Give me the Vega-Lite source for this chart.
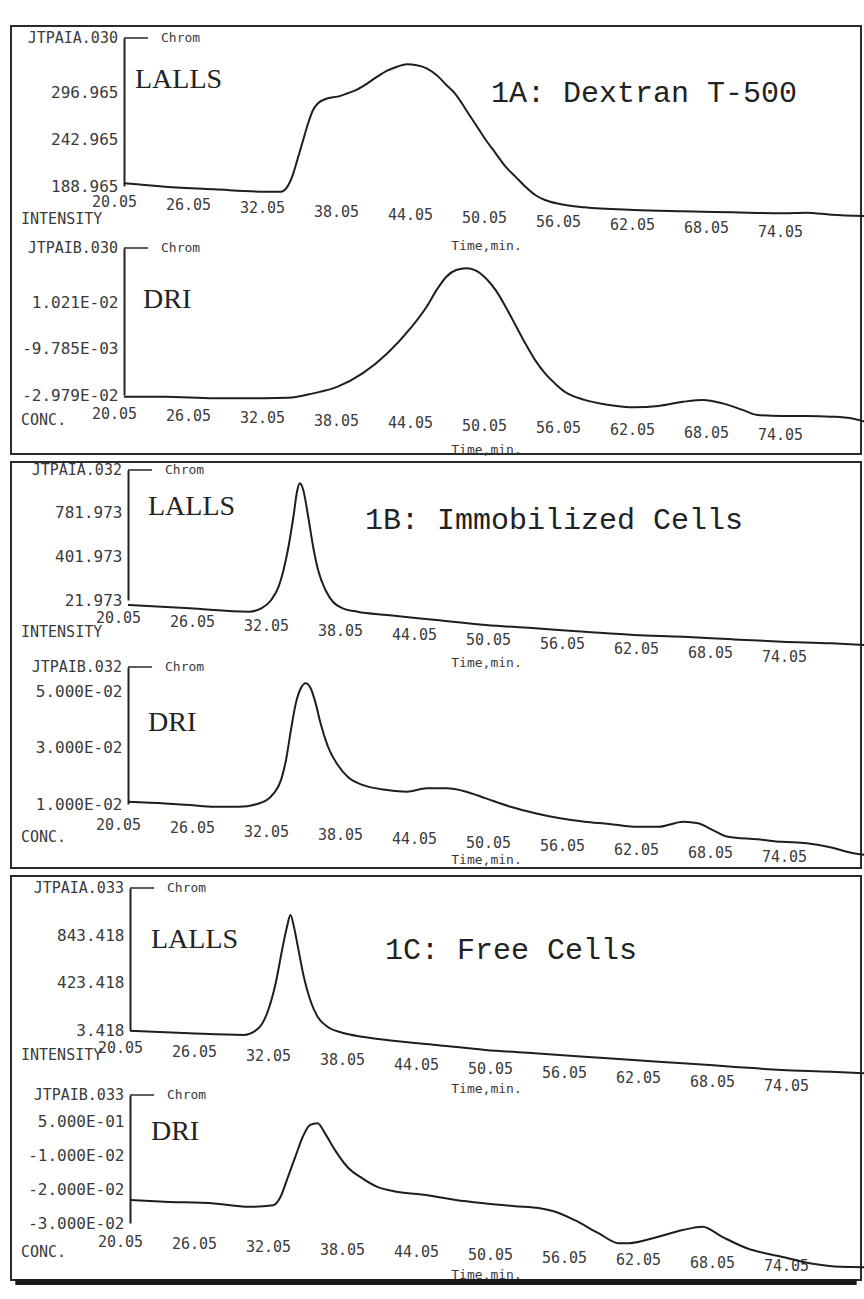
{
  "$schema": "https://vega.github.io/schema/vega-lite/v6.json",
  "background": "white",
  "padding": {"left": 10, "top": 25, "right": 2, "bottom": 10},
  "spacing": 8,
  "bounds": "flush",
  "config": {
    "view": {"stroke": "#2a2a2a", "strokeWidth": 2},
    "axis": {"grid": false, "ticks": false, "labelFont": "DejaVu Sans Mono", "labelFontSize": 15, "labelColor": "#3a3a3a", "titleFont": "DejaVu Sans Mono", "titleFontSize": 13, "titleFontWeight": "normal", "titleColor": "#3a3a3a", "labelOverlap": false, "labelFlush": false},
    "axisX": {"domain": false, "labelOffset": -10, "titleBaseline": "middle", "titleX": 475},
    "axisY": {"domainColor": "#222222", "domainWidth": 2, "labelPadding": 6, "labelFontSize": 16}
  },
  "datasets": {
    "A1": [{"t":20.05,"v":192.1},{"t":23.38,"v":188.2},{"t":27.38,"v":185.1},{"t":31.38,"v":182.4},{"t":32.78,"v":182.4},{"t":33.38,"v":190.1},{"t":33.78,"v":203.7},{"t":34.18,"v":223.0},{"t":34.58,"v":242.4},{"t":34.98,"v":261.8},{"t":35.38,"v":277.2},{"t":35.78,"v":285.0},{"t":36.58,"v":290.8},{"t":37.38,"v":292.7},{"t":38.18,"v":296.6},{"t":38.98,"v":301.2},{"t":39.79,"v":308.2},{"t":40.59,"v":315.9},{"t":41.39,"v":322.9},{"t":42.19,"v":327.5},{"t":42.99,"v":330.3},{"t":43.79,"v":329.1},{"t":44.59,"v":325.6},{"t":45.39,"v":317.9},{"t":46.19,"v":306.3},{"t":46.99,"v":294.6},{"t":47.79,"v":277.2},{"t":48.59,"v":259.8},{"t":49.39,"v":242.4},{"t":50.19,"v":226.9},{"t":50.99,"v":211.4},{"t":51.79,"v":199.8},{"t":52.59,"v":188.2},{"t":53.39,"v":178.5},{"t":54.19,"v":172.7},{"t":55.39,"v":168.1},{"t":57.39,"v":164.2},{"t":61.40,"v":161.1},{"t":65.40,"v":159.6},{"t":69.40,"v":158.4},{"t":73.40,"v":157.3},{"t":75.40,"v":158.0},{"t":77.40,"v":155.6},{"t":80.13,"v":154.1}],
    "A2": [{"t":20.05,"v":-0.0305},{"t":23.38,"v":-0.0305},{"t":27.38,"v":-0.0312},{"t":31.38,"v":-0.0312},{"t":33.38,"v":-0.0310},{"t":35.38,"v":-0.0291},{"t":37.38,"v":-0.0262},{"t":39.39,"v":-0.0205},{"t":41.39,"v":-0.0119},{"t":43.39,"v":-0.0004},{"t":44.59,"v":0.0082},{"t":45.39,"v":0.0153},{"t":46.19,"v":0.0211},{"t":46.99,"v":0.0240},{"t":47.79,"v":0.0247},{"t":48.59,"v":0.0237},{"t":49.39,"v":0.0204},{"t":50.19,"v":0.0153},{"t":50.99,"v":0.0082},{"t":51.79,"v":0.0003},{"t":52.59,"v":-0.0076},{"t":53.39,"v":-0.0148},{"t":54.19,"v":-0.0205},{"t":54.99,"v":-0.0248},{"t":55.79,"v":-0.0284},{"t":57.39,"v":-0.0319},{"t":59.39,"v":-0.0341},{"t":61.40,"v":-0.0351},{"t":63.40,"v":-0.0345},{"t":65.40,"v":-0.0327},{"t":67.00,"v":-0.0319},{"t":68.60,"v":-0.0334},{"t":70.20,"v":-0.0362},{"t":71.40,"v":-0.0384},{"t":73.40,"v":-0.0388},{"t":75.40,"v":-0.0388},{"t":77.40,"v":-0.0391},{"t":79.00,"v":-0.0398},{"t":80.13,"v":-0.0413}],
    "B1": [{"t":20.05,"v":-21.2},{"t":25.05,"v":-49.8},{"t":29.86,"v":-79.1},{"t":30.86,"v":-49.8},{"t":31.66,"v":22},{"t":32.26,"v":136.8},{"t":32.66,"v":281},{"t":33.06,"v":482},{"t":33.46,"v":741},{"t":33.78,"v":972},{"t":33.98,"v":1030},{"t":34.26,"v":972},{"t":34.66,"v":741},{"t":35.06,"v":482},{"t":35.46,"v":281},{"t":36.06,"v":108},{"t":36.66,"v":7},{"t":37.46,"v":-50},{"t":38.66,"v":-79},{"t":41.06,"v":-108},{"t":45.06,"v":-151},{"t":49.07,"v":-194},{"t":53.07,"v":-223},{"t":57.07,"v":-252},{"t":61.07,"v":-280},{"t":65.07,"v":-295},{"t":69.08,"v":-318},{"t":73.08,"v":-338},{"t":77.08,"v":-352},{"t":79.80,"v":-367}],
    "B2": [{"t":20.05,"v":0.0108},{"t":23.05,"v":0.0102},{"t":25.05,"v":0.0096},{"t":27.06,"v":0.0090},{"t":29.06,"v":0.0090},{"t":30.66,"v":0.0102},{"t":31.86,"v":0.0138},{"t":32.46,"v":0.0186},{"t":32.86,"v":0.0257},{"t":33.26,"v":0.0364},{"t":33.66,"v":0.0460},{"t":34.06,"v":0.0513},{"t":34.46,"v":0.0531},{"t":34.86,"v":0.0513},{"t":35.26,"v":0.0460},{"t":35.66,"v":0.0388},{"t":36.26,"v":0.0305},{"t":37.06,"v":0.0239},{"t":37.86,"v":0.0197},{"t":39.06,"v":0.0168},{"t":41.06,"v":0.0150},{"t":42.66,"v":0.0144},{"t":44.26,"v":0.0156},{"t":45.86,"v":0.0156},{"t":47.47,"v":0.0144},{"t":49.07,"v":0.0120},{"t":51.07,"v":0.0090},{"t":53.07,"v":0.0067},{"t":55.07,"v":0.0049},{"t":57.07,"v":0.0037},{"t":59.07,"v":0.0029},{"t":61.07,"v":0.0019},{"t":63.07,"v":0.0019},{"t":65.07,"v":0.0037},{"t":66.27,"v":0.0031},{"t":67.47,"v":0.0007},{"t":68.68,"v":-0.0017},{"t":71.08,"v":-0.0026},{"t":73.08,"v":-0.0035},{"t":75.08,"v":-0.0040},{"t":77.08,"v":-0.0055},{"t":78.68,"v":-0.0074},{"t":79.80,"v":-0.0082}],
    "C1": [{"t":20.05,"v":-2.8},{"t":24.85,"v":-26},{"t":29.26,"v":-41},{"t":30.46,"v":18},{"t":31.26,"v":182},{"t":31.86,"v":421},{"t":32.38,"v":718},{"t":32.78,"v":927},{"t":33.06,"v":1031},{"t":33.34,"v":927},{"t":33.66,"v":748},{"t":34.14,"v":480},{"t":34.66,"v":272},{"t":35.26,"v":122},{"t":36.06,"v":33},{"t":37.26,"v":-21},{"t":38.86,"v":-56},{"t":40.86,"v":-86},{"t":44.86,"v":-131},{"t":48.87,"v":-175},{"t":52.87,"v":-205},{"t":56.87,"v":-235},{"t":60.87,"v":-265},{"t":64.87,"v":-294},{"t":68.88,"v":-324},{"t":72.88,"v":-354},{"t":76.88,"v":-369},{"t":79.60,"v":-384}],
    "C2": [{"t":20.05,"v":-0.0232},{"t":22.85,"v":-0.0237},{"t":26.86,"v":-0.0242},{"t":29.66,"v":-0.0252},{"t":31.66,"v":-0.0247},{"t":32.26,"v":-0.0222},{"t":32.86,"v":-0.0163},{"t":33.46,"v":-0.0103},{"t":34.06,"v":-0.0044},{"t":34.66,"v":-0.0009},{"t":35.26,"v":-0.0004},{"t":35.86,"v":-0.0034},{"t":36.66,"v":-0.0083},{"t":37.66,"v":-0.0133},{"t":38.86,"v":-0.0167},{"t":40.06,"v":-0.0192},{"t":41.66,"v":-0.0207},{"t":44.06,"v":-0.0217},{"t":46.46,"v":-0.0232},{"t":48.87,"v":-0.0242},{"t":51.27,"v":-0.0250},{"t":53.27,"v":-0.0256},{"t":54.47,"v":-0.0266},{"t":56.07,"v":-0.0291},{"t":58.07,"v":-0.0331},{"t":59.67,"v":-0.0360},{"t":60.47,"v":-0.0360},{"t":62.87,"v":-0.0341},{"t":64.87,"v":-0.0321},{"t":66.47,"v":-0.0311},{"t":68.07,"v":-0.0341},{"t":70.07,"v":-0.0375},{"t":72.88,"v":-0.0400},{"t":75.28,"v":-0.0420},{"t":77.68,"v":-0.0430},{"t":79.60,"v":-0.0431}]
  },
  "vconcat": [
    {
      "width": 850, "height": 428,
      "resolve": {"scale": {"y": "independent"}, "axis": {"x": "independent", "y": "independent"}},
      "layer": [
        {"data": {"name": "A1"}, "mark": {"type": "line", "color": "#1e1e1e", "strokeWidth": 2, "interpolate": "monotone"},
         "encoding": {
           "x": {"field": "t", "type": "quantitative", "scale": {"domain": [10.888, 79.81], "nice": false, "zero": false},
                 "axis": {"orient": "bottom", "offset": -264, "values": [20.05,26.05,32.05,38.05,44.05,50.05,56.05,62.05,68.05,74.05], "format": ".2f", "labelPadding": {"expr": "4 + (datum.value - 20.05) * 0.56"}, "title": "Time,min.", "titleY": 55}},
           "y": {"field": "v", "type": "quantitative", "scale": {"domain": [188.965, 360.8], "range": [160, 12], "nice": false, "zero": false},
                 "axis": {"orient": "left", "offset": -113, "values": [188.965, 242.965, 296.965], "format": ".3f", "title": null}}}},
        {"data": {"values": [{}]}, "mark": {"type": "text", "text": "LALLS", "font": "Liberation Serif", "fontSize": 28, "align": "left", "baseline": "middle", "color": "#222"},
         "encoding": {"x": {"datum": 20.94, "type": "quantitative", "scale": {"domain": [10.888, 79.81], "nice": false, "zero": false}, "axis": null}, "y": {"datum": 312.07, "type": "quantitative", "scale": {"domain": [188.965, 360.8], "range": [160, 12], "nice": false, "zero": false}, "axis": null}}},
        {"data": {"values": [{}]}, "mark": {"type": "text", "text": "1A: Dextran T-500", "font": "Liberation Mono", "fontSize": 30, "align": "left", "baseline": "middle", "color": "#222"},
         "encoding": {"x": {"datum": 49.81, "type": "quantitative", "scale": {"domain": [10.888, 79.81], "nice": false, "zero": false}, "axis": null}, "y": {"datum": 296.97, "type": "quantitative", "scale": {"domain": [188.965, 360.8], "range": [160, 12], "nice": false, "zero": false}, "axis": null}}},
        {"data": {"values": [{}]}, "mark": {"type": "text", "text": "JTPAIA.030", "font": "DejaVu Sans Mono", "fontSize": 15, "align": "right", "baseline": "middle", "color": "#3a3a3a"},
         "encoding": {"x": {"datum": 19.56, "type": "quantitative", "scale": {"domain": [10.888, 79.81], "nice": false, "zero": false}, "axis": null}, "y": {"datum": 360.8, "type": "quantitative", "scale": {"domain": [188.965, 360.8], "range": [160, 12], "nice": false, "zero": false}, "axis": null}}},
        {"data": {"values": [{}]}, "mark": {"type": "rule", "color": "#2a2a2a", "strokeWidth": 1.5},
         "encoding": {"x": {"datum": 20.05, "type": "quantitative", "scale": {"domain": [10.888, 79.81], "nice": false, "zero": false}, "axis": null}, "x2": {"datum": 22.0}, "y": {"datum": 360.8, "type": "quantitative", "scale": {"domain": [188.965, 360.8], "range": [160, 12], "nice": false, "zero": false}, "axis": null}}},
        {"data": {"values": [{}]}, "mark": {"type": "text", "text": "Chrom", "font": "DejaVu Sans Mono", "fontSize": 13, "align": "left", "baseline": "middle", "color": "#3a3a3a"},
         "encoding": {"x": {"datum": 23.05, "type": "quantitative", "scale": {"domain": [10.888, 79.81], "nice": false, "zero": false}, "axis": null}, "y": {"datum": 360.8, "type": "quantitative", "scale": {"domain": [188.965, 360.8], "range": [160, 12], "nice": false, "zero": false}, "axis": null}}},
        {"data": {"values": [{}]}, "mark": {"type": "text", "text": "INTENSITY", "font": "DejaVu Sans Mono", "fontSize": 15, "align": "left", "baseline": "middle", "color": "#3a3a3a"},
         "encoding": {"x": {"datum": 11.70, "type": "quantitative", "scale": {"domain": [10.888, 79.81], "nice": false, "zero": false}, "axis": null}, "y": {"datum": 150.6, "type": "quantitative", "scale": {"domain": [188.965, 360.8], "range": [160, 12], "nice": false, "zero": false}, "axis": null}}},
        {"data": {"name": "A2"}, "mark": {"type": "line", "color": "#1e1e1e", "strokeWidth": 2, "interpolate": "monotone"},
         "encoding": {
           "x": {"field": "t", "type": "quantitative", "scale": {"domain": [10.888, 79.81], "nice": false, "zero": false},
                 "axis": {"orient": "bottom", "offset": -51, "values": [20.05,26.05,32.05,38.05,44.05,50.05,56.05,62.05,68.05,74.05], "format": ".2f", "labelPadding": {"expr": "3 + (datum.value - 20.05) * 0.4"}, "title": "Time,min.", "titleY": 46}},
           "y": {"field": "v", "type": "quantitative", "scale": {"domain": [-0.02979, 0.03344], "range": [369, 222], "nice": false, "zero": false},
                 "axis": {"orient": "left", "offset": -113, "values": [-0.02979, -0.009785, 0.01021], "labelExpr": "datum.value < -0.02 ? '-2.979E-02' : datum.value < 0 ? '-9.785E-03' : '1.021E-02'", "title": null}}}},
        {"data": {"values": [{}]}, "mark": {"type": "text", "text": "DRI", "font": "Liberation Serif", "fontSize": 28, "align": "left", "baseline": "middle", "color": "#222"},
         "encoding": {"x": {"datum": 21.59, "type": "quantitative", "scale": {"domain": [10.888, 79.81], "nice": false, "zero": false}, "axis": null}, "y": {"datum": 0.01106, "type": "quantitative", "scale": {"domain": [-0.02979, 0.03344], "range": [369, 222], "nice": false, "zero": false}, "axis": null}}},
        {"data": {"values": [{}]}, "mark": {"type": "text", "text": "JTPAIB.030", "font": "DejaVu Sans Mono", "fontSize": 15, "align": "right", "baseline": "middle", "color": "#3a3a3a"},
         "encoding": {"x": {"datum": 19.56, "type": "quantitative", "scale": {"domain": [10.888, 79.81], "nice": false, "zero": false}, "axis": null}, "y": {"datum": 0.03344, "type": "quantitative", "scale": {"domain": [-0.02979, 0.03344], "range": [369, 222], "nice": false, "zero": false}, "axis": null}}},
        {"data": {"values": [{}]}, "mark": {"type": "rule", "color": "#2a2a2a", "strokeWidth": 1.5},
         "encoding": {"x": {"datum": 20.05, "type": "quantitative", "scale": {"domain": [10.888, 79.81], "nice": false, "zero": false}, "axis": null}, "x2": {"datum": 22.0}, "y": {"datum": 0.03344, "type": "quantitative", "scale": {"domain": [-0.02979, 0.03344], "range": [369, 222], "nice": false, "zero": false}, "axis": null}}},
        {"data": {"values": [{}]}, "mark": {"type": "text", "text": "Chrom", "font": "DejaVu Sans Mono", "fontSize": 13, "align": "left", "baseline": "middle", "color": "#3a3a3a"},
         "encoding": {"x": {"datum": 23.05, "type": "quantitative", "scale": {"domain": [10.888, 79.81], "nice": false, "zero": false}, "axis": null}, "y": {"datum": 0.03344, "type": "quantitative", "scale": {"domain": [-0.02979, 0.03344], "range": [369, 222], "nice": false, "zero": false}, "axis": null}}},
        {"data": {"values": [{}]}, "mark": {"type": "text", "text": "CONC.", "font": "DejaVu Sans Mono", "fontSize": 15, "align": "left", "baseline": "middle", "color": "#3a3a3a"},
         "encoding": {"x": {"datum": 11.70, "type": "quantitative", "scale": {"domain": [10.888, 79.81], "nice": false, "zero": false}, "axis": null}, "y": {"datum": -0.04054, "type": "quantitative", "scale": {"domain": [-0.02979, 0.03344], "range": [369, 222], "nice": false, "zero": false}, "axis": null}}}
      ]
    },
    {
      "width": 850, "height": 406,
      "resolve": {"scale": {"y": "independent"}, "axis": {"x": "independent", "y": "independent"}},
      "layer": [
        {"data": {"name": "B1"}, "mark": {"type": "line", "color": "#1e1e1e", "strokeWidth": 2, "interpolate": "monotone"},
         "encoding": {
           "x": {"field": "t", "type": "quantitative", "scale": {"domain": [10.563, 79.48], "nice": false, "zero": false},
                 "axis": {"orient": "bottom", "offset": -260, "values": [20.05,26.05,32.05,38.05,44.05,50.05,56.05,62.05,68.05,74.05], "format": ".2f", "labelPadding": {"expr": "2 + (datum.value - 20.05) * 0.74"}, "title": "Time,min.", "titleY": 54}},
           "y": {"field": "v", "type": "quantitative", "scale": {"domain": [21.973, 1144.7], "range": [138, 8], "nice": false, "zero": false},
                 "axis": {"orient": "left", "offset": -117, "values": [21.973, 401.973, 781.973], "format": ".3f", "title": null}}}},
        {"data": {"values": [{}]}, "mark": {"type": "text", "text": "LALLS", "font": "Liberation Serif", "fontSize": 28, "align": "left", "baseline": "middle", "color": "#222"},
         "encoding": {"x": {"datum": 21.67, "type": "quantitative", "scale": {"domain": [10.563, 79.48], "nice": false, "zero": false}, "axis": null}, "y": {"datum": 825.1, "type": "quantitative", "scale": {"domain": [21.973, 1144.7], "range": [138, 8], "nice": false, "zero": false}, "axis": null}}},
        {"data": {"values": [{}]}, "mark": {"type": "text", "text": "1B: Immobilized Cells", "font": "Liberation Mono", "fontSize": 30, "align": "left", "baseline": "middle", "color": "#222"},
         "encoding": {"x": {"datum": 39.27, "type": "quantitative", "scale": {"domain": [10.563, 79.48], "nice": false, "zero": false}, "axis": null}, "y": {"datum": 712.9, "type": "quantitative", "scale": {"domain": [21.973, 1144.7], "range": [138, 8], "nice": false, "zero": false}, "axis": null}}},
        {"data": {"values": [{}]}, "mark": {"type": "text", "text": "JTPAIA.032", "font": "DejaVu Sans Mono", "fontSize": 15, "align": "right", "baseline": "middle", "color": "#3a3a3a"},
         "encoding": {"x": {"datum": 19.56, "type": "quantitative", "scale": {"domain": [10.563, 79.48], "nice": false, "zero": false}, "axis": null}, "y": {"datum": 1144.7, "type": "quantitative", "scale": {"domain": [21.973, 1144.7], "range": [138, 8], "nice": false, "zero": false}, "axis": null}}},
        {"data": {"values": [{}]}, "mark": {"type": "rule", "color": "#2a2a2a", "strokeWidth": 1.5},
         "encoding": {"x": {"datum": 20.05, "type": "quantitative", "scale": {"domain": [10.563, 79.48], "nice": false, "zero": false}, "axis": null}, "x2": {"datum": 22.0}, "y": {"datum": 1144.7, "type": "quantitative", "scale": {"domain": [21.973, 1144.7], "range": [138, 8], "nice": false, "zero": false}, "axis": null}}},
        {"data": {"values": [{}]}, "mark": {"type": "text", "text": "Chrom", "font": "DejaVu Sans Mono", "fontSize": 13, "align": "left", "baseline": "middle", "color": "#3a3a3a"},
         "encoding": {"x": {"datum": 23.05, "type": "quantitative", "scale": {"domain": [10.563, 79.48], "nice": false, "zero": false}, "axis": null}, "y": {"datum": 1144.7, "type": "quantitative", "scale": {"domain": [21.973, 1144.7], "range": [138, 8], "nice": false, "zero": false}, "axis": null}}},
        {"data": {"values": [{}]}, "mark": {"type": "text", "text": "INTENSITY", "font": "DejaVu Sans Mono", "fontSize": 15, "align": "left", "baseline": "middle", "color": "#3a3a3a"},
         "encoding": {"x": {"datum": 11.37, "type": "quantitative", "scale": {"domain": [10.563, 79.48], "nice": false, "zero": false}, "axis": null}, "y": {"datum": -254.4, "type": "quantitative", "scale": {"domain": [21.973, 1144.7], "range": [138, 8], "nice": false, "zero": false}, "axis": null}}},
        {"data": {"name": "B2"}, "mark": {"type": "line", "color": "#1e1e1e", "strokeWidth": 2, "interpolate": "monotone"},
         "encoding": {
           "x": {"field": "t", "type": "quantitative", "scale": {"domain": [10.563, 79.48], "nice": false, "zero": false},
                 "axis": {"orient": "bottom", "offset": -53, "values": [20.05,26.05,32.05,38.05,44.05,50.05,56.05,62.05,68.05,74.05], "format": ".2f", "labelPadding": {"expr": "2 + (datum.value - 20.05) * 0.6"}, "title": "Time,min.", "titleY": 44}},
           "y": {"field": "v", "type": "quantitative", "scale": {"domain": [0.01, 0.0589], "range": [342, 205], "nice": false, "zero": false},
                 "axis": {"orient": "left", "offset": -117, "values": [0.01, 0.03, 0.05], "labelExpr": "datum.value < 0.02 ? '1.000E-02' : datum.value < 0.04 ? '3.000E-02' : '5.000E-02'", "title": null}}}},
        {"data": {"values": [{}]}, "mark": {"type": "text", "text": "DRI", "font": "Liberation Serif", "fontSize": 28, "align": "left", "baseline": "middle", "color": "#222"},
         "encoding": {"x": {"datum": 21.67, "type": "quantitative", "scale": {"domain": [10.563, 79.48], "nice": false, "zero": false}, "axis": null}, "y": {"datum": 0.0389, "type": "quantitative", "scale": {"domain": [0.01, 0.0589], "range": [342, 205], "nice": false, "zero": false}, "axis": null}}},
        {"data": {"values": [{}]}, "mark": {"type": "text", "text": "JTPAIB.032", "font": "DejaVu Sans Mono", "fontSize": 15, "align": "right", "baseline": "middle", "color": "#3a3a3a"},
         "encoding": {"x": {"datum": 19.56, "type": "quantitative", "scale": {"domain": [10.563, 79.48], "nice": false, "zero": false}, "axis": null}, "y": {"datum": 0.0589, "type": "quantitative", "scale": {"domain": [0.01, 0.0589], "range": [342, 205], "nice": false, "zero": false}, "axis": null}}},
        {"data": {"values": [{}]}, "mark": {"type": "rule", "color": "#2a2a2a", "strokeWidth": 1.5},
         "encoding": {"x": {"datum": 20.05, "type": "quantitative", "scale": {"domain": [10.563, 79.48], "nice": false, "zero": false}, "axis": null}, "x2": {"datum": 22.0}, "y": {"datum": 0.0589, "type": "quantitative", "scale": {"domain": [0.01, 0.0589], "range": [342, 205], "nice": false, "zero": false}, "axis": null}}},
        {"data": {"values": [{}]}, "mark": {"type": "text", "text": "Chrom", "font": "DejaVu Sans Mono", "fontSize": 13, "align": "left", "baseline": "middle", "color": "#3a3a3a"},
         "encoding": {"x": {"datum": 23.05, "type": "quantitative", "scale": {"domain": [10.563, 79.48], "nice": false, "zero": false}, "axis": null}, "y": {"datum": 0.0589, "type": "quantitative", "scale": {"domain": [0.01, 0.0589], "range": [342, 205], "nice": false, "zero": false}, "axis": null}}},
        {"data": {"values": [{}]}, "mark": {"type": "text", "text": "CONC.", "font": "DejaVu Sans Mono", "fontSize": 15, "align": "left", "baseline": "middle", "color": "#3a3a3a"},
         "encoding": {"x": {"datum": 11.37, "type": "quantitative", "scale": {"domain": [10.563, 79.48], "nice": false, "zero": false}, "axis": null}, "y": {"datum": -0.00178, "type": "quantitative", "scale": {"domain": [0.01, 0.0589], "range": [342, 205], "nice": false, "zero": false}, "axis": null}}}
      ]
    },
    {
      "width": 850, "height": 404,
      "resolve": {"scale": {"y": "independent"}, "axis": {"x": "independent", "y": "independent"}},
      "layer": [
        {"data": {"name": "C1"}, "mark": {"type": "line", "color": "#1e1e1e", "strokeWidth": 2, "interpolate": "monotone"},
         "encoding": {
           "x": {"field": "t", "type": "quantitative", "scale": {"domain": [10.401, 79.32], "nice": false, "zero": false},
                 "axis": {"orient": "bottom", "offset": -245, "values": [20.05,26.05,32.05,38.05,44.05,50.05,56.05,62.05,68.05,74.05], "format": ".2f", "labelPadding": {"expr": "5 + (datum.value - 20.05) * 0.72"}, "title": "Time,min.", "titleY": 53}},
           "y": {"field": "v", "type": "quantitative", "scale": {"domain": [3.418, 1272.3], "range": [154, 12], "nice": false, "zero": false},
                 "axis": {"orient": "left", "offset": -119, "values": [3.418, 423.418, 843.418], "format": ".3f", "title": null}}}},
        {"data": {"values": [{}]}, "mark": {"type": "text", "text": "LALLS", "font": "Liberation Serif", "fontSize": 28, "align": "left", "baseline": "middle", "color": "#222"},
         "encoding": {"x": {"datum": 21.75, "type": "quantitative", "scale": {"domain": [10.401, 79.32], "nice": false, "zero": false}, "axis": null}, "y": {"datum": 807.7, "type": "quantitative", "scale": {"domain": [3.418, 1272.3], "range": [154, 12], "nice": false, "zero": false}, "axis": null}}},
        {"data": {"values": [{}]}, "mark": {"type": "text", "text": "1C: Free Cells", "font": "Liberation Mono", "fontSize": 30, "align": "left", "baseline": "middle", "color": "#222"},
         "encoding": {"x": {"datum": 40.73, "type": "quantitative", "scale": {"domain": [10.401, 79.32], "nice": false, "zero": false}, "axis": null}, "y": {"datum": 718.3, "type": "quantitative", "scale": {"domain": [3.418, 1272.3], "range": [154, 12], "nice": false, "zero": false}, "axis": null}}},
        {"data": {"values": [{}]}, "mark": {"type": "text", "text": "JTPAIA.033", "font": "DejaVu Sans Mono", "fontSize": 15, "align": "right", "baseline": "middle", "color": "#3a3a3a"},
         "encoding": {"x": {"datum": 19.56, "type": "quantitative", "scale": {"domain": [10.401, 79.32], "nice": false, "zero": false}, "axis": null}, "y": {"datum": 1272.3, "type": "quantitative", "scale": {"domain": [3.418, 1272.3], "range": [154, 12], "nice": false, "zero": false}, "axis": null}}},
        {"data": {"values": [{}]}, "mark": {"type": "rule", "color": "#2a2a2a", "strokeWidth": 1.5},
         "encoding": {"x": {"datum": 20.05, "type": "quantitative", "scale": {"domain": [10.401, 79.32], "nice": false, "zero": false}, "axis": null}, "x2": {"datum": 22.0}, "y": {"datum": 1272.3, "type": "quantitative", "scale": {"domain": [3.418, 1272.3], "range": [154, 12], "nice": false, "zero": false}, "axis": null}}},
        {"data": {"values": [{}]}, "mark": {"type": "text", "text": "Chrom", "font": "DejaVu Sans Mono", "fontSize": 13, "align": "left", "baseline": "middle", "color": "#3a3a3a"},
         "encoding": {"x": {"datum": 23.05, "type": "quantitative", "scale": {"domain": [10.401, 79.32], "nice": false, "zero": false}, "axis": null}, "y": {"datum": 1272.3, "type": "quantitative", "scale": {"domain": [3.418, 1272.3], "range": [154, 12], "nice": false, "zero": false}, "axis": null}}},
        {"data": {"values": [{}]}, "mark": {"type": "text", "text": "INTENSITY", "font": "DejaVu Sans Mono", "fontSize": 15, "align": "left", "baseline": "middle", "color": "#3a3a3a"},
         "encoding": {"x": {"datum": 11.21, "type": "quantitative", "scale": {"domain": [10.401, 79.32], "nice": false, "zero": false}, "axis": null}, "y": {"datum": -220, "type": "quantitative", "scale": {"domain": [3.418, 1272.3], "range": [154, 12], "nice": false, "zero": false}, "axis": null}}},
        {"data": {"name": "C2"}, "mark": {"type": "line", "color": "#1e1e1e", "strokeWidth": 2, "interpolate": "monotone"},
         "encoding": {
           "x": {"field": "t", "type": "quantitative", "scale": {"domain": [10.401, 79.32], "nice": false, "zero": false},
                 "axis": {"orient": "bottom", "offset": -48, "values": [20.05,26.05,32.05,38.05,44.05,50.05,56.05,62.05,68.05,74.05], "format": ".2f", "labelPadding": {"expr": "2 + (datum.value - 20.05) * 0.45"}, "title": "Time,min.", "titleY": 42}},
           "y": {"field": "v", "type": "quantitative", "scale": {"domain": [-0.03, 0.00798], "range": [347, 219], "nice": false, "zero": false},
                 "axis": {"orient": "left", "offset": -119, "values": [-0.03, -0.02, -0.01, 0], "labelExpr": "datum.value < -0.025 ? '-3.000E-02' : datum.value < -0.015 ? '-2.000E-02' : datum.value < -0.005 ? '-1.000E-02' : '5.000E-01'", "title": null}}}},
        {"data": {"values": [{}]}, "mark": {"type": "text", "text": "DRI", "font": "Liberation Serif", "fontSize": 28, "align": "left", "baseline": "middle", "color": "#222"},
         "encoding": {"x": {"datum": 21.75, "type": "quantitative", "scale": {"domain": [10.401, 79.32], "nice": false, "zero": false}, "axis": null}, "y": {"datum": -0.003, "type": "quantitative", "scale": {"domain": [-0.03, 0.00798], "range": [347, 219], "nice": false, "zero": false}, "axis": null}}},
        {"data": {"values": [{}]}, "mark": {"type": "text", "text": "JTPAIB.033", "font": "DejaVu Sans Mono", "fontSize": 15, "align": "right", "baseline": "middle", "color": "#3a3a3a"},
         "encoding": {"x": {"datum": 19.56, "type": "quantitative", "scale": {"domain": [10.401, 79.32], "nice": false, "zero": false}, "axis": null}, "y": {"datum": 0.00798, "type": "quantitative", "scale": {"domain": [-0.03, 0.00798], "range": [347, 219], "nice": false, "zero": false}, "axis": null}}},
        {"data": {"values": [{}]}, "mark": {"type": "rule", "color": "#2a2a2a", "strokeWidth": 1.5},
         "encoding": {"x": {"datum": 20.05, "type": "quantitative", "scale": {"domain": [10.401, 79.32], "nice": false, "zero": false}, "axis": null}, "x2": {"datum": 22.0}, "y": {"datum": 0.00798, "type": "quantitative", "scale": {"domain": [-0.03, 0.00798], "range": [347, 219], "nice": false, "zero": false}, "axis": null}}},
        {"data": {"values": [{}]}, "mark": {"type": "text", "text": "Chrom", "font": "DejaVu Sans Mono", "fontSize": 13, "align": "left", "baseline": "middle", "color": "#3a3a3a"},
         "encoding": {"x": {"datum": 23.05, "type": "quantitative", "scale": {"domain": [10.401, 79.32], "nice": false, "zero": false}, "axis": null}, "y": {"datum": 0.00798, "type": "quantitative", "scale": {"domain": [-0.03, 0.00798], "range": [347, 219], "nice": false, "zero": false}, "axis": null}}},
        {"data": {"values": [{}]}, "mark": {"type": "text", "text": "CONC.", "font": "DejaVu Sans Mono", "fontSize": 15, "align": "left", "baseline": "middle", "color": "#3a3a3a"},
         "encoding": {"x": {"datum": 11.21, "type": "quantitative", "scale": {"domain": [10.401, 79.32], "nice": false, "zero": false}, "axis": null}, "y": {"datum": -0.0386, "type": "quantitative", "scale": {"domain": [-0.03, 0.00798], "range": [347, 219], "nice": false, "zero": false}, "axis": null}}},
        {"data": {"values": [{}]}, "mark": {"type": "rule", "color": "#1a1a1a", "strokeWidth": 6},
         "encoding": {"x": {"datum": 10.75, "type": "quantitative", "scale": {"domain": [10.401, 79.32], "nice": false, "zero": false}, "axis": null}, "x2": {"datum": 78.97}, "y": {"datum": -0.0475, "type": "quantitative", "scale": {"domain": [-0.03, 0.00798], "range": [347, 219], "nice": false, "zero": false}, "axis": null}}}
      ]
    }
  ]
}
